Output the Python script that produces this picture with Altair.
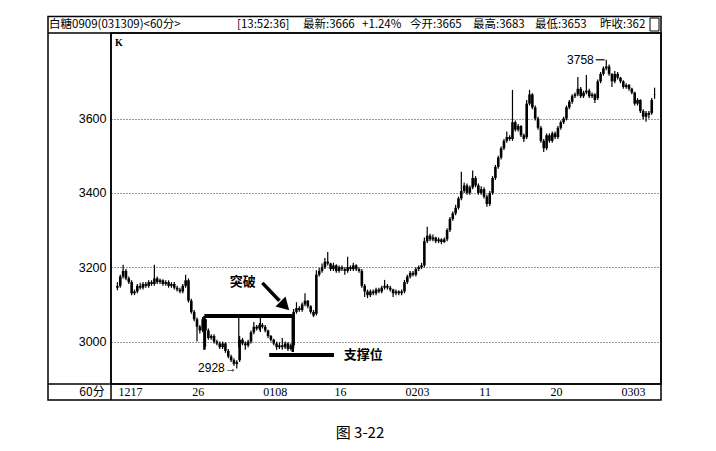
import altair as alt
import pandas as pd

# ---------------- data ----------------
open_ = [3145, 3150, 3175, 3190, 3170, 3160, 3130, 3135, 3150, 3145,
         3155, 3150, 3160, 3155, 3170, 3160, 3165, 3155, 3160, 3150,
         3155, 3145, 3140, 3135, 3150, 3165, 3110, 3080, 3060, 3040,
         3030, 3060, 3030, 3010, 3015, 3000, 2995, 2985, 2995, 2975,
         2960, 2950, 2940, 2950, 3005, 2995, 2990, 3000, 3025, 3040,
         3035, 3045, 3040, 3030, 3015, 3005, 2995, 2985, 2990, 2985,
         2995, 2980, 2990, 3080, 3090, 3085, 3100, 3110, 3095, 3080,
         3075, 3180, 3190, 3200, 3215, 3210, 3195, 3205, 3190, 3200,
         3195, 3190, 3200, 3195, 3205, 3195, 3190, 3150, 3135, 3125,
         3135, 3130, 3140, 3135, 3145, 3150, 3145, 3140, 3130, 3135,
         3130, 3135, 3160, 3175, 3185, 3180, 3195, 3200, 3205, 3270,
         3285, 3275, 3280, 3270, 3275, 3268, 3275, 3300, 3330, 3345,
         3360, 3385, 3405, 3420, 3400, 3415, 3440, 3420, 3400, 3410,
         3390, 3370, 3400, 3440, 3470, 3495, 3520, 3540, 3550, 3545,
         3590, 3570, 3580, 3555, 3550, 3640, 3665, 3630, 3600, 3575,
         3540, 3520, 3555, 3540, 3560, 3550, 3575, 3590, 3600, 3630,
         3645, 3660, 3665, 3680, 3660, 3670, 3675, 3660, 3665, 3655,
         3700, 3720, 3735, 3740, 3720, 3700, 3720, 3710, 3700, 3685,
         3690, 3680, 3670, 3640, 3650, 3620, 3605, 3615, 3615, 3665]
high_ = [3160, 3180, 3207, 3195, 3175, 3165, 3140, 3155, 3158, 3160,
         3160, 3165, 3165, 3207, 3175, 3170, 3168, 3165, 3165, 3160,
         3160, 3150, 3145, 3155, 3180, 3170, 3115, 3085, 3065, 3045,
         3066, 3062, 3035, 3020, 3020, 3005, 3000, 3000, 2998, 2980,
         2965, 2955, 2950, 3015, 3010, 3000, 3005, 3030, 3053, 3045,
         3050, 3050, 3045, 3032, 3018, 3008, 3000, 2998, 3010, 3000,
         2998, 2995, 3088, 3106, 3095, 3105, 3130, 3112, 3098, 3085,
         3192, 3198, 3210, 3225, 3241, 3212, 3212, 3208, 3205, 3205,
         3200, 3228, 3205, 3212, 3208, 3200, 3195, 3155, 3140, 3140,
         3140, 3145, 3145, 3150, 3166, 3155, 3150, 3142, 3140, 3138,
         3140, 3166, 3180, 3190, 3190, 3200, 3205, 3212, 3280, 3309,
         3290, 3288, 3282, 3280, 3278, 3280, 3305, 3335, 3350, 3368,
         3390, 3457, 3428, 3425, 3420, 3460, 3445, 3425, 3418, 3415,
         3395, 3405, 3445, 3475, 3500, 3525, 3545, 3565, 3555, 3677,
         3595, 3585, 3582, 3560, 3650, 3677, 3668, 3635, 3605, 3580,
         3545, 3560, 3560, 3565, 3565, 3580, 3595, 3605, 3635, 3650,
         3665, 3670, 3712, 3685, 3675, 3717, 3680, 3670, 3668, 3705,
         3725, 3740, 3758, 3745, 3722, 3728, 3725, 3712, 3703, 3695,
         3693, 3683, 3672, 3655, 3652, 3625, 3620, 3620, 3655, 3683]
low_ = [3138, 3145, 3170, 3165, 3155, 3125, 3125, 3130, 3140, 3140,
        3145, 3145, 3150, 3150, 3155, 3155, 3150, 3150, 3145, 3145,
        3140, 3135, 3130, 3130, 3145, 3105, 3075, 3055, 3000, 3022,
        3025, 2986, 3005, 3005, 2995, 2990, 2980, 2980, 2970, 2955,
        2945, 2935, 2928, 2945, 2990, 2978, 2985, 2995, 3020, 3030,
        3030, 3035, 3025, 3010, 3000, 2990, 2978, 2980, 2978, 2980,
        2975, 2976, 2982, 3075, 3080, 3080, 3095, 3090, 3075, 3066,
        3070, 3175, 3185, 3195, 3205, 3190, 3190, 3185, 3185, 3190,
        3180, 3185, 3190, 3190, 3190, 3185, 3145, 3120, 3117, 3120,
        3125, 3125, 3130, 3130, 3140, 3140, 3135, 3120, 3125, 3125,
        3125, 3130, 3155, 3170, 3175, 3175, 3190, 3195, 3200, 3265,
        3270, 3270, 3265, 3265, 3262, 3265, 3270, 3295, 3325, 3340,
        3355, 3380, 3400, 3395, 3395, 3410, 3415, 3395, 3395, 3385,
        3363, 3365, 3395, 3435, 3465, 3490, 3515, 3535, 3540, 3540,
        3565, 3565, 3550, 3537, 3545, 3635, 3625, 3595, 3570, 3535,
        3510, 3515, 3535, 3535, 3545, 3545, 3570, 3585, 3595, 3625,
        3640, 3655, 3660, 3655, 3655, 3665, 3655, 3655, 3642, 3650,
        3695, 3715, 3730, 3715, 3685, 3695, 3705, 3695, 3680, 3680,
        3675, 3665, 3635, 3635, 3615, 3598, 3591, 3600, 3610, 3653]
close_ = [3150, 3175, 3190, 3170, 3160, 3130, 3135, 3150, 3145, 3155,
          3150, 3160, 3155, 3170, 3160, 3165, 3155, 3160, 3150, 3155,
          3145, 3140, 3135, 3150, 3165, 3110, 3080, 3060, 3040, 3030,
          3060, 3030, 3010, 3015, 3000, 2995, 2985, 2995, 2975, 2960,
          2950, 2940, 2945, 3005, 2995, 2990, 3000, 3025, 3040, 3035,
          3045, 3040, 3030, 3015, 3005, 2995, 2985, 2990, 2985, 2995,
          2980, 2990, 3080, 3090, 3085, 3100, 3110, 3095, 3080, 3070,
          3180, 3190, 3200, 3215, 3210, 3195, 3205, 3190, 3200, 3195,
          3190, 3200, 3195, 3205, 3195, 3190, 3150, 3135, 3125, 3135,
          3130, 3140, 3135, 3145, 3150, 3145, 3140, 3130, 3135, 3130,
          3135, 3160, 3175, 3185, 3180, 3195, 3200, 3205, 3270, 3285,
          3275, 3280, 3270, 3275, 3268, 3275, 3300, 3330, 3345, 3360,
          3385, 3405, 3420, 3400, 3415, 3440, 3420, 3400, 3410, 3390,
          3370, 3400, 3440, 3470, 3495, 3520, 3540, 3550, 3545, 3590,
          3570, 3580, 3555, 3545, 3640, 3665, 3630, 3600, 3575, 3540,
          3520, 3555, 3540, 3560, 3550, 3575, 3590, 3600, 3630, 3645,
          3660, 3665, 3680, 3660, 3670, 3675, 3660, 3665, 3650, 3700,
          3720, 3735, 3740, 3720, 3700, 3720, 3710, 3700, 3685, 3690,
          3680, 3670, 3640, 3650, 3620, 3605, 3615, 3610, 3650, 3666]

x_tick_idx = [0, 26, 51, 76, 101, 127, 152, 177]
x_tick_lab = ["1217", "26", "0108", "16", "0203", "11", "20", "0303"]
y_ticks = [3000, 3200, 3400, 3600]

header_texts = ["白糖0909(031309)<60分>", "[13:52:36]", "最新:3666", "+1.24%",
                "今开:3665", "最高:3683", "最低:3653", "昨收:362"]
header_left = [49, 237, 303, 362, 410, 473, 535, 600]

# annotation geometry in data units (bar index, price)
seg_x = [30.6, 30.6, 61.7, 42.7, 50.3, 53.4]
seg_x2 = [61.7, 30.6, 61.7, 42.7, 50.3, 76.2]
seg_y = [3069, 3069, 3069, 3069, 3069, 2964]
seg_y2 = [3069, 2978, 2972, 2985, 3026, 2964]
seg_w = [4, 2.5, 2.5, 1.2, 1.2, 4]

ann_x = [44.1, 79.6, 42.0, 167.6]
ann_y = [3161, 2964, 2929, 3758]
ann_t = ["突破", "支撑位", "2928→", "3758"]

# ---------------- chart ----------------
N = len(close_)
df = pd.DataFrame({"i": list(range(N)), "o": open_, "h": high_, "l": low_, "c": close_})

W, H = 550, 351
X0, Y0 = 111, 33  # page position of the plot origin

xs = alt.Scale(domain=[-0.5, N - 0.5], nice=False, zero=False)
ys = alt.Scale(domain=[2886, 3830], nice=False, zero=False)
yax = alt.Axis(values=y_ticks, format="d", grid=True, gridDash=[1, 2],
               gridColor="#333333", gridWidth=1, domain=False, ticks=False,
               labelPadding=5, labelFontSize=12.5, labelFont="Liberation Sans",
               labelColor="black", title=None)

one = pd.DataFrame({"k": [0]})
CJK = "Noto Sans CJK SC"


def ptext(txt, px, py, size=12, align="left", font=CJK, weight="normal"):
    return alt.Chart(one).mark_text(
        align=align, baseline="middle", fontSize=size, font=font,
        fontWeight=weight, color="black"
    ).encode(x=alt.value(px - X0), y=alt.value(py - Y0), text=alt.value(txt))


def prule(x1, x2, y1, y2, w=1.5):
    return alt.Chart(one).mark_rule(color="black", strokeWidth=w).encode(
        x=alt.value(x1 - X0), x2=alt.value(x2 - X0),
        y=alt.value(y1 - Y0), y2=alt.value(y2 - Y0))


def xenc(f="x"):
    return alt.X(f + ":Q", scale=xs, axis=None)


def yenc(f="y"):
    return alt.Y(f + ":Q", scale=ys, axis=yax)


wick = alt.Chart(df).mark_rule(color="black", strokeWidth=1.2).encode(
    x=xenc("i"), y=yenc("l"), y2="h:Q")
body = alt.Chart(df).mark_bar(color="black", size=2.6).encode(
    x=xenc("i"), y=yenc("o"), y2="c:Q")

xl = pd.DataFrame({"i": x_tick_idx, "t": x_tick_lab})
xlabels = alt.Chart(xl).mark_text(
    align="left", baseline="middle", fontSize=12, font="Liberation Serif",
    color="black", dx=1
).encode(x=xenc("i"), y=alt.value(392 - Y0), text="t:N")

seg = pd.DataFrame({"x": seg_x, "x2": seg_x2, "y": seg_y, "y2": seg_y2, "w": seg_w})
segs = alt.Chart(seg).mark_rule(color="black").encode(
    x=xenc(), x2="x2:Q", y=yenc(), y2="y2:Q",
    strokeWidth=alt.StrokeWidth("w:Q", scale=None, legend=None))

arrow_df = pd.DataFrame({"x": [51.0, 57.0], "y": [3158, 3110]})
arrow_line = alt.Chart(arrow_df).mark_line(color="black", strokeWidth=3.5).encode(
    x=xenc(), y=yenc())
head_df = pd.DataFrame({"x": [58.4], "y": [3100]})
arrow_head = alt.Chart(head_df).mark_point(
    shape="triangle", filled=True, color="black", size=200, angle=135, opacity=1
).encode(x=xenc(), y=yenc())

ann_df = pd.DataFrame({"x": ann_x, "y": ann_y, "t": ann_t})
ann_c1 = alt.Chart(ann_df.iloc[[0]]).mark_text(
    align="center", baseline="middle", fontSize=13, font=CJK, fontWeight="bold", color="black"
).encode(x=xenc(), y=yenc(), text="t:N")
ann_c2 = alt.Chart(ann_df.iloc[[1]]).mark_text(
    align="left", baseline="middle", fontSize=13, font=CJK, fontWeight="bold", color="black"
).encode(x=xenc(), y=yenc(), text="t:N")
ann_n = alt.Chart(ann_df.iloc[2:]).mark_text(
    align="right", baseline="middle", fontSize=12, font="Liberation Sans", color="black"
).encode(x=xenc(), y=yenc(), text="t:N")
dash_df = pd.DataFrame({"x": [168.3], "x2": [171.4], "y": [3758]})
dash = alt.Chart(dash_df).mark_rule(color="black", strokeWidth=1.2).encode(
    x=xenc(), x2="x2:Q", y=yenc())

frame = alt.Chart(one).mark_rect(fillOpacity=0, stroke="black", strokeWidth=1.5).encode(
    x=alt.value(48 - X0), x2=alt.value(661 - X0),
    y=alt.value(16.5 - Y0), y2=alt.value(400 - Y0))
icon = alt.Chart(one).mark_rect(fillOpacity=0, stroke="black", strokeWidth=1).encode(
    x=alt.value(650 - X0), x2=alt.value(659 - X0),
    y=alt.value(18 - Y0), y2=alt.value(31 - Y0))

layers = [wick, body, segs, arrow_line, arrow_head, ann_c1, ann_c2, ann_n, dash,
          xlabels, frame, icon,
          prule(48, 661, 33, 33), prule(48, 661, 384, 384), prule(111, 111, 33, 400),
          ptext("K", 115, 43, size=10, font="Liberation Serif", weight="bold"),
          ptext("60分", 92, 392, size=12, align="center"),
          ptext("图 3-22", 360, 433, size=15, align="center")]
for t, px in zip(header_texts, header_left):
    layers.append(ptext(t, px, 25, size=11.5))

chart = alt.layer(*layers).properties(
    width=W, height=H,
    autosize=alt.AutoSizeParams(type="none"),
    padding={"left": X0 - 8, "top": Y0 - 8, "right": 40, "bottom": 60},
    background="white",
).configure_view(stroke="black", strokeWidth=1.5)

chart.save("out.html", embed_options={"renderer": "svg", "actions": False})
